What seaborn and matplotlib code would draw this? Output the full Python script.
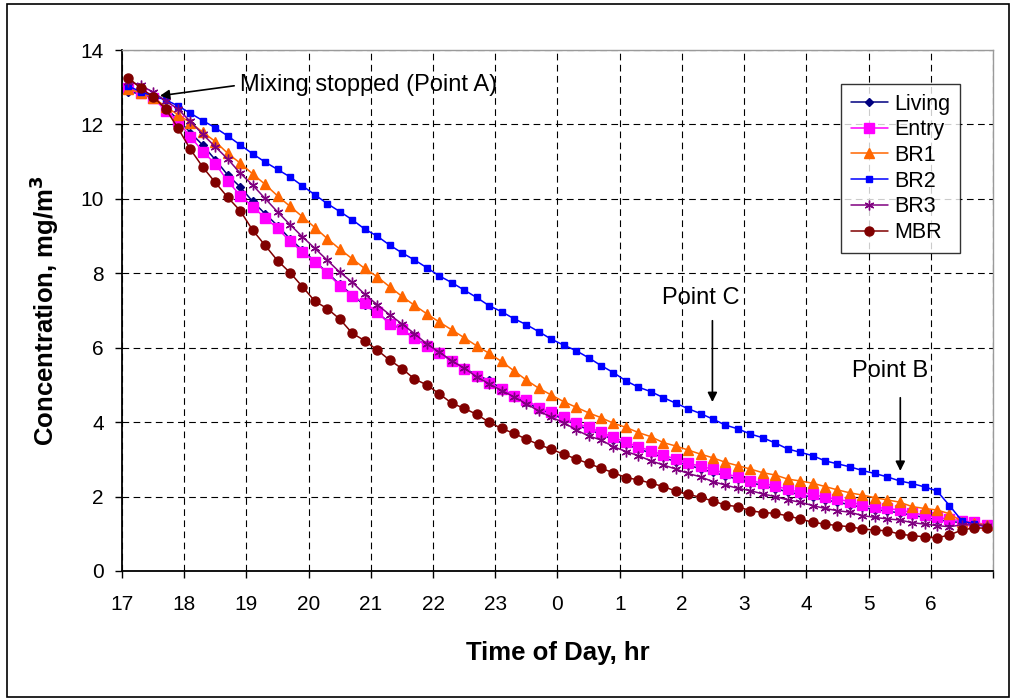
import numpy as np
import pandas as pd
import matplotlib
matplotlib.use('Agg')
import matplotlib.pyplot as plt
from matplotlib.patches import Rectangle
import seaborn as sns

# sample times: every 12 min starting 17:06 (hours past midnight of day 1)
n_pts = 70
hours = 17.1 + 0.2 * np.arange(n_pts)

living = [12.88, 12.82, 12.70, 12.45, 12.13, 11.78, 11.44, 11.05, 10.64, 10.32,
          9.93, 9.60, 9.28, 8.93, 8.62, 8.32, 8.02, 7.70, 7.42, 7.14,
          6.94, 6.68, 6.48, 6.26, 6.06, 5.86, 5.65, 5.45, 5.27, 5.12,
          4.90, 4.70, 4.53, 4.36, 4.22, 4.08, 3.93, 3.80, 3.67, 3.53,
          3.40, 3.28, 3.17, 3.05, 2.94, 2.84, 2.75, 2.65, 2.56, 2.46,
          2.37, 2.30, 2.21, 2.13, 2.05, 1.98, 1.91, 1.85, 1.78, 1.71,
          1.65, 1.61, 1.56, 1.50, 1.44, 1.38, 1.33, 1.30, 1.27, 1.22]
entry = [12.97, 12.84, 12.72, 12.37, 12.08, 11.67, 11.27, 10.94, 10.48, 10.09,
         9.79, 9.49, 9.21, 8.86, 8.58, 8.31, 8.00, 7.67, 7.40, 7.20,
         6.97, 6.63, 6.50, 6.26, 6.05, 5.87, 5.64, 5.43, 5.25, 5.04,
         4.88, 4.70, 4.60, 4.39, 4.26, 4.13, 3.97, 3.86, 3.73, 3.59,
         3.46, 3.34, 3.23, 3.12, 3.00, 2.89, 2.82, 2.73, 2.62, 2.52,
         2.43, 2.36, 2.28, 2.20, 2.11, 2.06, 1.98, 1.93, 1.86, 1.77,
         1.71, 1.68, 1.64, 1.57, 1.50, 1.44, 1.39, 1.35, 1.31, 1.24]
br1 = [12.95, 12.85, 12.72, 12.48, 12.26, 12.05, 11.79, 11.54, 11.22, 10.96,
       10.67, 10.39, 10.08, 9.80, 9.52, 9.23, 8.93, 8.65, 8.39, 8.13,
       7.91, 7.64, 7.38, 7.14, 6.91, 6.69, 6.48, 6.27, 6.05, 5.85,
       5.63, 5.38, 5.13, 4.91, 4.73, 4.55, 4.40, 4.25, 4.12, 3.97,
       3.86, 3.72, 3.61, 3.45, 3.36, 3.25, 3.14, 3.04, 2.92, 2.83,
       2.74, 2.64, 2.58, 2.47, 2.42, 2.36, 2.27, 2.18, 2.10, 2.04,
       1.97, 1.91, 1.85, 1.73, 1.68, 1.64, 1.54, 1.33, 1.28, 1.24]
br2 = [13.03, 12.88, 12.76, 12.66, 12.50, 12.30, 12.10, 11.91, 11.69, 11.45,
       11.21, 10.99, 10.79, 10.59, 10.35, 10.11, 9.87, 9.66, 9.44, 9.19,
       9.00, 8.76, 8.55, 8.36, 8.15, 7.93, 7.75, 7.55, 7.35, 7.13,
       6.97, 6.78, 6.62, 6.43, 6.23, 6.07, 5.92, 5.73, 5.52, 5.33,
       5.11, 4.94, 4.82, 4.66, 4.51, 4.36, 4.23, 4.08, 3.92, 3.82,
       3.68, 3.58, 3.44, 3.28, 3.19, 3.10, 2.96, 2.88, 2.80, 2.70,
       2.62, 2.53, 2.42, 2.35, 2.26, 2.15, 1.76, 1.35, 1.26, 1.19]
br3 = [13.15, 13.06, 12.86, 12.64, 12.41, 12.08, 11.73, 11.40, 11.07, 10.69,
       10.37, 10.01, 9.65, 9.31, 8.98, 8.67, 8.35, 8.03, 7.76, 7.44,
       7.16, 6.89, 6.64, 6.38, 6.10, 5.88, 5.65, 5.45, 5.22, 5.03,
       4.85, 4.68, 4.49, 4.30, 4.13, 3.99, 3.79, 3.63, 3.52, 3.34,
       3.21, 3.10, 2.96, 2.85, 2.74, 2.62, 2.53, 2.40, 2.31, 2.22,
       2.16, 2.07, 2.00, 1.91, 1.85, 1.76, 1.68, 1.62, 1.58, 1.49,
       1.44, 1.40, 1.37, 1.30, 1.26, 1.22, 1.19, 1.24, 1.24, 1.22]
mbr = [13.26, 12.97, 12.75, 12.42, 11.90, 11.33, 10.85, 10.44, 10.04, 9.68,
       9.16, 8.75, 8.34, 8.02, 7.64, 7.25, 7.05, 6.77, 6.39, 6.19,
       5.94, 5.67, 5.44, 5.16, 5.00, 4.76, 4.51, 4.37, 4.21, 4.00,
       3.83, 3.70, 3.54, 3.40, 3.27, 3.14, 3.01, 2.89, 2.76, 2.64,
       2.51, 2.45, 2.36, 2.27, 2.15, 2.06, 1.98, 1.88, 1.77, 1.73,
       1.62, 1.57, 1.55, 1.48, 1.40, 1.31, 1.26, 1.22, 1.19, 1.13,
       1.10, 1.08, 0.99, 0.95, 0.92, 0.89, 0.97, 1.10, 1.16, 1.15]

tick_hours = list(range(17, 32))
tick_labels = ['17', '18', '19', '20', '21', '22', '23',
               '0', '1', '2', '3', '4', '5', '6', '']

series = {'Living': living, 'Entry': entry, 'BR1': br1,
          'BR2': br2, 'BR3': br3, 'MBR': mbr}
colors = {'Living': '#000080', 'Entry': '#FF00FF', 'BR1': '#FF6600',
          'BR2': '#0000FF', 'BR3': '#800080', 'MBR': '#800000'}
markers = {'Living': 'D', 'Entry': 's', 'BR1': '^',
           'BR2': 's', 'BR3': (6, 2, 0), 'MBR': 'o'}
msizes = {'Living': 4.5, 'Entry': 6.5, 'BR1': 7, 'BR2': 4, 'BR3': 7, 'MBR': 6.5}

sns.set_theme(style='white')
plt.rcParams['font.family'] = ['Liberation Sans', 'DejaVu Sans']
plt.rcParams['text.color'] = 'black'
plt.rcParams['axes.labelcolor'] = 'black'
plt.rcParams['xtick.color'] = 'black'
plt.rcParams['ytick.color'] = 'black'

fig = plt.figure(figsize=(10.16, 7.0), dpi=100)
ax = fig.add_axes([122/1016, 129/700, 871/1016, 521/700])

for name, vals in series.items():
    sns.lineplot(x=hours, y=vals, ax=ax, color=colors[name], lw=1.1,
                 marker=markers[name], markersize=msizes[name],
                 markeredgecolor=colors[name], markeredgewidth=1.0,
                 label=name, sort=False)

ax.set_xlim(17, 31)
ax.set_ylim(0, 14)
ax.set_xticks(tick_hours)
ax.set_xticklabels(tick_labels)
ax.set_yticks(range(0, 15, 2))
ax.grid(True, color='black', linestyle=(0, (6, 4)), linewidth=0.8)
ax.set_axisbelow(True)

for side in ['top', 'right']:
    ax.spines[side].set_color('#9a9a9a')
    ax.spines[side].set_linewidth(1.0)
for side in ['left', 'bottom']:
    ax.spines[side].set_color('black')
    ax.spines[side].set_linewidth(1.3)

ax.tick_params(axis='both', which='major', direction='out', length=5,
               width=1, color='black', labelcolor='black', labelsize=15,
               left=True, bottom=True)
ax.tick_params(axis='x', pad=12)
ax.tick_params(axis='y', pad=8)

ax.set_xlabel('Time of Day, hr', fontsize=18.5, fontweight='bold', labelpad=20)
ax.set_ylabel('Concentration, mg/m$^\\mathbf{3}$', fontsize=18.5,
              fontweight='bold', labelpad=14)

leg = ax.legend(loc='upper right', bbox_to_anchor=(0.962, 0.935),
                borderaxespad=0, fontsize=15.5, frameon=True, fancybox=False,
                edgecolor='black', handlelength=1.7, labelspacing=0.22,
                borderpad=0.45, handletextpad=0.3)
leg.get_frame().set_linewidth(1.0)

arrow = dict(arrowstyle='-|>', color='black', lw=1.2, mutation_scale=14,
             shrinkA=2, shrinkB=0)
ax.annotate('Mixing stopped (Point A)', xy=(17.61, 12.77), xytext=(18.9, 13.06),
            fontsize=17, va='center', ha='left',
            arrowprops=dict(arrow, relpos=(0, 0.5)))
ax.text(26.31, 7.34, 'Point C', fontsize=17, ha='center', va='center')
ax.annotate('', xy=(26.49, 4.54), xytext=(26.49, 6.80), arrowprops=arrow)
ax.text(29.34, 5.37, 'Point B', fontsize=17, ha='center', va='center')
ax.annotate('', xy=(29.51, 2.69), xytext=(29.51, 4.73), arrowprops=arrow)

fig.patches.append(Rectangle((7/1016, 3/700), 1002/1016, 693/700,
                             transform=fig.transFigure, fill=False,
                             edgecolor='black', linewidth=1.2))

fig.savefig('out.png', dpi=100)
